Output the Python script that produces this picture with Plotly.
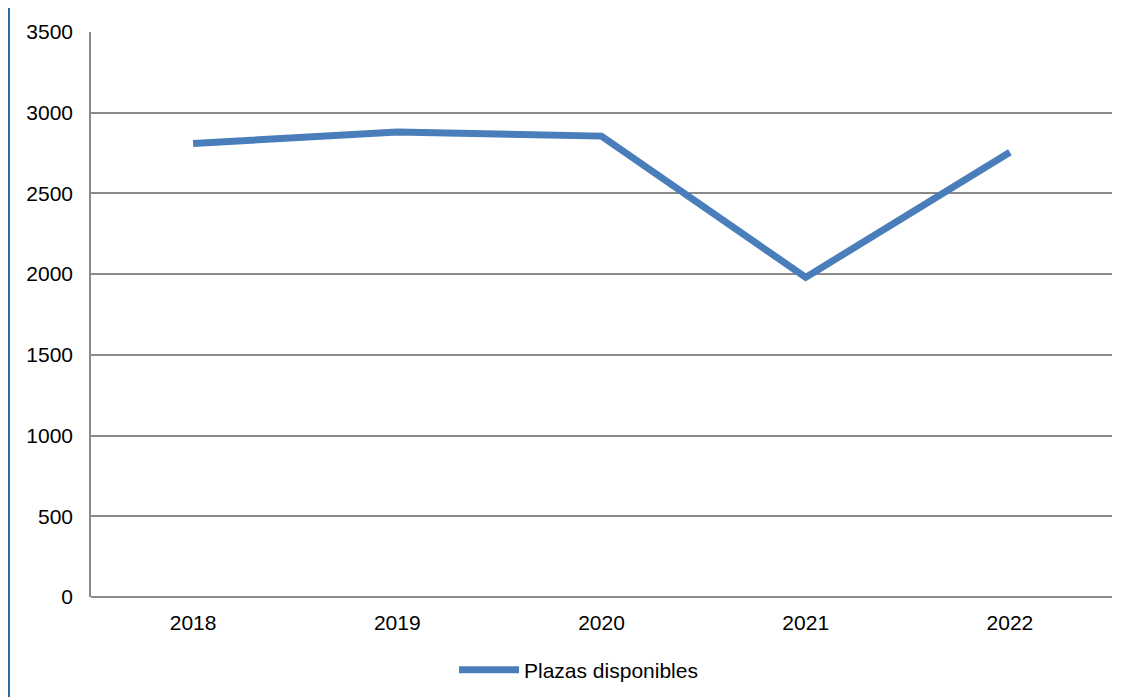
import plotly.graph_objects as go

years = ["2018", "2019", "2020", "2021", "2022"]
plazas = [2810, 2880, 2855, 1980, 2755]
series_name = "Plazas disponibles"
y_ticks = [0, 500, 1000, 1500, 2000, 2500, 3000, 3500]

fig = go.Figure()
fig.add_trace(go.Scatter(
    x=years, y=plazas, mode="lines", name=series_name,
    line=dict(color="#4a7ebb", width=7),
))

# page body has an 8px margin, so the figure is shrunk by that amount
W, H = 1120, 689
L, R, T, B = 83, 16, 24, 100
pw = W - L - R
ph = H - T - B

fig.update_layout(
    width=W, height=H,
    margin=dict(l=L, r=R, t=T, b=B, autoexpand=False),
    paper_bgcolor="white", plot_bgcolor="white",
    font=dict(family="Liberation Sans, Arial", size=21, color="#000000"),
    showlegend=True,
    legend=dict(orientation="h", x=0.5 - 23 / pw, xanchor="center",
                yref="container", y=1 - 662 / H, yanchor="middle",
                font=dict(size=21), itemwidth=60),
    xaxis=dict(
        type="category", range=[-0.5, 4.5], showgrid=False,
        showline=False, ticks="", ticklabelstandoff=11, zeroline=False,
    ),
    yaxis=dict(
        range=[0, 3500], tickvals=y_ticks, showgrid=True,
        gridcolor="#8a8a8a", gridwidth=1.5, showline=True,
        linecolor="#8a8a8a", linewidth=1.5, ticks="", zeroline=True,
        zerolinecolor="#8a8a8a", zerolinewidth=1.5,
        ticklabelstandoff=12,
    ),
    shapes=[dict(
        type="line", xref="paper", yref="paper",
        x0=-(L - 1) / pw, x1=-(L - 1) / pw, y0=-B / ph, y1=1 + T / ph,
        line=dict(color="#2a6aa6", width=2),
    )],
)

fig.write_html("out.html")
